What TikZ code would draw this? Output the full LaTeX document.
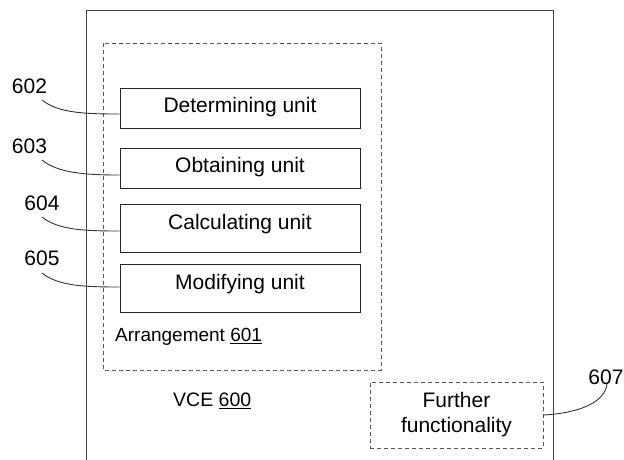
\documentclass[tikz,border=0pt]{standalone}
\usepackage{fontspec}
\setmainfont{Liberation Sans}
\usetikzlibrary{calc}
\begin{document}
\begin{tikzpicture}[x=1pt,y=-1pt,
  font=\fontsize{21}{25}\selectfont,
  unitbox/.style={draw=black!85,line width=1pt,minimum width=240pt,minimum height=40pt,inner sep=0pt},
  dashbox/.style={draw=black!65,line width=1pt,dash pattern=on 4pt off 3pt},
  lbl/.style={inner sep=0pt,anchor=center},
  leader/.style={draw=black!80,line width=0.9pt}]
\useasboundingbox (0,0) rectangle (624,459);
% outer VCE box
\draw[black!75,line width=1pt] (86,470) -- (86,10) -- (553,10) -- (553,470);
% arrangement dashed box
\draw[dashbox] (103,43) rectangle (381,370);
% units
\node[unitbox] (det) at (240,108) {};
\node[unitbox] (obt) at (240,168) {};
\node[unitbox,minimum height=48pt] (cal) at (240,228.5) {};
\node[unitbox,minimum height=48pt] (mod) at (240,288) {};
\node[lbl] (tdet) at ($(det)+(0,-0.5)$) {Determining unit};
\node[lbl] (tobt) at ($(obt)+(0,-0.5)$) {Obtaining unit};
\node[lbl] (tcal) at ($(cal)+(0,-4)$) {Calculating unit};
\node[lbl] (tmod) at ($(mod)+(0,-3.5)$) {Modifying unit};
% labels
\node[lbl] (l602) at (29.5,86) {602};
\node[lbl] (l603) at (29.5,146) {603};
\node[lbl] (l604) at (42,203) {604};
\node[lbl] (l605) at (42,258) {605};
\coordinate (s602) at (42,100);
\coordinate (s603) at (42,160);
\coordinate (s604) at (42,217);
\coordinate (s605) at (42,273);
\draw[leader] (s602) .. controls (58,113) and (85,114) .. (det.west |- 0,114);
\draw[leader] (s603) .. controls (58,173) and (85,175) .. (obt.west |- 0,175);
\draw[leader] (s604) .. controls (58,230) and (85,231) .. (cal.west |- 0,231);
\draw[leader] (s605) .. controls (58,286) and (85,287) .. (mod.west |- 0,287);
% arrangement label
\node[anchor=west,inner sep=0pt,font=\fontsize{19}{23}\selectfont] (arr) at (115,337) {Arrangement \underline{601}};
% VCE label
\node[anchor=west,inner sep=0pt,font=\fontsize{19.5}{23}\selectfont] (vce) at (173,401) {VCE \underline{600}};
% further functionality
\node[dashbox,minimum width=173pt,minimum height=66pt,align=center,inner sep=0pt,
  font=\fontsize{21}{25}\selectfont] (ff) at (456.5,415) {Further\\functionality};
\node[lbl] (l607) at (606,377) {607};
\coordinate (s607) at (607,384);
\draw[leader] (ff.east) .. controls (580,413) and (605,402) .. (s607);
\end{tikzpicture}
\end{document}
